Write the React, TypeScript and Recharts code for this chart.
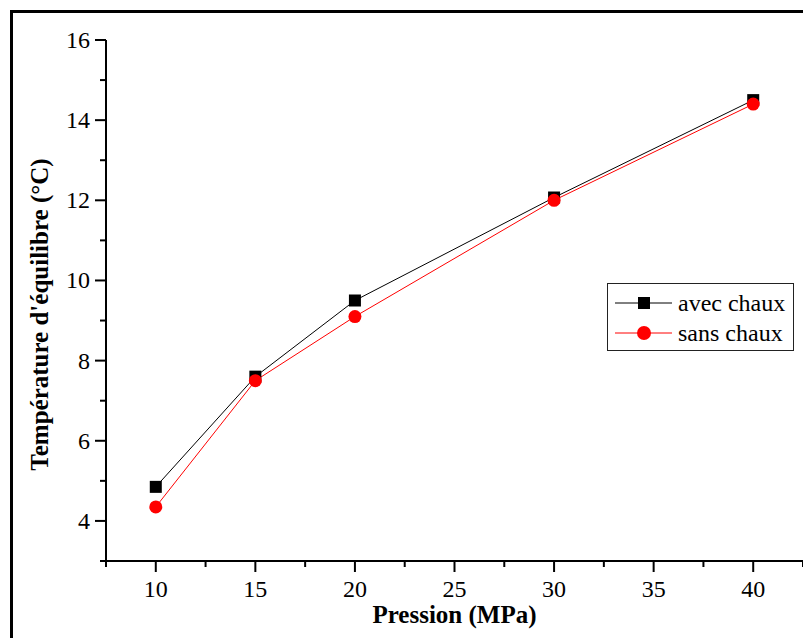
import React from "react";
import { LineChart, Line, XAxis, YAxis, Label } from "recharts";

const pressures = [10, 15, 20, 30, 40];
const avecChaux = [4.85, 7.6, 9.5, 12.07, 14.5];
const sansChaux = [4.35, 7.5, 9.1, 12.0, 14.4];
const xTicks = [7.5, 10, 12.5, 15, 17.5, 20, 22.5, 25, 27.5, 30, 32.5, 35, 37.5, 40, 42.5];
const yTicks = [3, 4, 5, 6, 7, 8, 9, 10, 11, 12, 13, 14, 15, 16];
const seriesNames = ["avec chaux", "sans chaux"];

const data = pressures.map((p, i) => ({ p, avec: avecChaux[i], sans: sansChaux[i] }));

const FONT = '"Liberation Serif", "Times New Roman", serif';

const XTick = (props: any) => {
  const { x, y, payload } = props;
  const v = payload.value;
  const major = v % 5 === 0;
  return (
    <g>
      <line x1={x} y1={y} x2={x} y2={y + (major ? 11 : 6)} stroke="#000" strokeWidth={2} />
      {major && (
        <text x={x} y={y + 36} textAnchor="middle" fontSize={24} fontFamily={FONT} fill="#000">
          {v}
        </text>
      )}
    </g>
  );
};

const YTick = (props: any) => {
  const { x, y, payload } = props;
  const v = payload.value;
  const major = v % 2 === 0;
  return (
    <g>
      <line x1={x} y1={y} x2={x - (major ? 11 : 6)} y2={y} stroke="#000" strokeWidth={2} />
      {major && (
        <text x={x - 16} y={y + 8} textAnchor="end" fontSize={24} fontFamily={FONT} fill="#000">
          {v}
        </text>
      )}
    </g>
  );
};

const LegendBox = () => (
  <div
    style={{
      position: "absolute",
      left: 607,
      top: 283,
      width: 185,
      height: 66,
      border: "1px solid #222",
      background: "#fff",
    }}
  >
    <svg width={185} height={66} style={{ display: "block" }}>
      <line x1={7} y1={19} x2={64} y2={19} stroke="#000" strokeWidth={1} />
      <rect x={30} y={13} width={12} height={12} fill="#000" />
      <text x={70} y={27} fontSize={24} fontFamily={FONT} fill="#000">
        {seriesNames[0]}
      </text>
      <line x1={7} y1={49} x2={64} y2={49} stroke="#ff0000" strokeWidth={1} />
      <circle cx={36} cy={49} r={7} fill="#ff0000" />
      <text x={70} y={57} fontSize={24} fontFamily={FONT} fill="#000">
        {seriesNames[1]}
      </text>
    </svg>
  </div>
);

const SquareDot = (props: any) => {
  const { cx, cy } = props;
  if (cx == null || cy == null) return null;
  return <rect x={cx - 6} y={cy - 6} width={12} height={12} fill="#000" />;
};

const CircleDot = (props: any) => {
  const { cx, cy } = props;
  if (cx == null || cy == null) return null;
  return <circle cx={cx} cy={cy} r={6.5} fill="#ff0000" />;
};

export default function App() {
  return (
    <div
      style={{
        position: "absolute",
        left: 0,
        top: 0,
        width: 803,
        height: 638,
        background: "#fff",
        overflow: "hidden",
      }}
    >
      <div
        style={{
          position: "absolute",
          left: 10,
          top: 10,
          width: 900,
          height: 700,
          borderTop: "3px solid #000",
          borderLeft: "3px solid #000",
        }}
      />
      <div style={{ position: "absolute", left: 0, top: 0 }}>
        <LineChart
          width={803}
          height={638}
          data={data}
          margin={{ top: 40, right: 0, left: 0, bottom: 0 }}
        >
          <XAxis
            dataKey="p"
            type="number"
            domain={[7.5, 42.5]}
            ticks={xTicks}
            interval={0}
            height={77}
            tickSize={0}
            tickMargin={0}
            tickLine={false}
            axisLine={{ stroke: "#000", strokeWidth: 2 }}
            tick={<XTick />}
          >
            <Label
              content={(p: any) => {
                const vb = p.viewBox;
                return (
                  <text
                    x={vb.x + vb.width / 2}
                    y={vb.y + 62}
                    textAnchor="middle"
                    fontSize={25}
                    fontWeight="bold"
                    fontFamily={FONT}
                    fill="#000"
                  >
                    Pression (MPa)
                  </text>
                );
              }}
            />
          </XAxis>
          <YAxis
            type="number"
            domain={[3, 16]}
            ticks={yTicks}
            interval={0}
            width={106}
            tickSize={0}
            tickMargin={0}
            tickLine={false}
            axisLine={{ stroke: "#000", strokeWidth: 2 }}
            tick={<YTick />}
          >
            <Label
              content={(p: any) => {
                const vb = p.viewBox;
                const cx = vb.x + 48;
                const cy = vb.y + vb.height / 2 + 14;
                return (
                  <text
                    x={cx}
                    y={cy}
                    transform={`rotate(-90 ${cx} ${cy})`}
                    textAnchor="middle"
                    fontSize={25}
                    fontWeight="bold"
                    fontFamily={FONT}
                    fill="#000"
                  >
                    Température d'équilibre (°C)
                  </text>
                );
              }}
            />
          </YAxis>
          <Line
            type="linear"
            dataKey="avec"
            name={seriesNames[0]}
            stroke="#000"
            strokeWidth={1}
            dot={<SquareDot />}
            isAnimationActive={false}
          />
          <Line
            type="linear"
            dataKey="sans"
            name={seriesNames[1]}
            stroke="#ff0000"
            strokeWidth={1}
            dot={<CircleDot />}
            isAnimationActive={false}
          />
        </LineChart>
      </div>
      <LegendBox />
    </div>
  );
}
